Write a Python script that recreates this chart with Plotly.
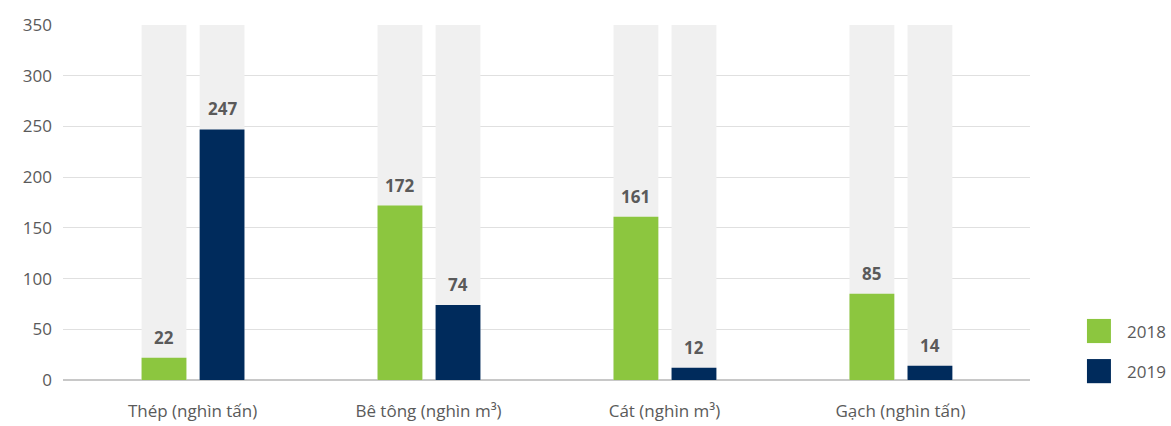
import plotly.graph_objects as go

categories = ["Thép (nghìn tấn)", "Bê tông (nghìn m³)", "Cát (nghìn m³)", "Gạch (nghìn tấn)"]
values_2018 = [22, 172, 161, 85]
values_2019 = [247, 74, 12, 14]
series_names = ["2018", "2019"]
y_max = 350
y_ticks = [0, 50, 100, 150, 200, 250, 300, 350]

green = "#8cc63f"
navy = "#002b5c"
track = "#f0f0f0"
text_grey = "#5a5a5a"
font_family = "'Open Sans', Lato, sans-serif"

x = list(range(len(categories)))
bar_w = 0.19
offsets = [-0.216, 0.030]

fig = go.Figure()
# light grey full-height tracks behind each bar
for off in offsets:
    fig.add_trace(go.Bar(
        x=x, y=[y_max] * len(x), width=bar_w, offset=off,
        marker=dict(color=track, line=dict(width=0)),
        showlegend=False, hoverinfo="skip",
    ))

for vals, off, color, name in zip([values_2018, values_2019], offsets, [green, navy], series_names):
    fig.add_trace(go.Bar(
        x=x, y=vals, width=bar_w, offset=off, name=name,
        marker=dict(color=color, line=dict(width=0)),
        showlegend=False,
    ))
    for xi, v in zip(x, vals):
        fig.add_annotation(
            x=xi + off + bar_w / 2, y=v, text=f"<b>{v}</b>",
            showarrow=False, yanchor="bottom", yshift=7,
            font=dict(size=17, color=text_grey, family=font_family),
        )

# legend as swatches with labels on the right
for i, (name, color) in enumerate(zip(series_names, [green, navy])):
    y0 = 0.138 - i * 0.113
    fig.add_shape(type="rect", xref="paper", yref="paper",
                  x0=1.0589, x1=1.0837, y0=y0 - 0.034, y1=y0 + 0.034,
                  fillcolor=color, line=dict(width=0))
    fig.add_annotation(xref="paper", yref="paper", x=1.098, y=y0,
                       text=name, showarrow=False, xanchor="left", yanchor="middle",
                       font=dict(size=17, color=text_grey, family=font_family))

fig.update_layout(
    width=1171, height=426,
    margin=dict(l=63, r=141, t=25, b=46),
    barmode="overlay",
    plot_bgcolor="white", paper_bgcolor="white",
    font=dict(family=font_family, size=17, color=text_grey),
    xaxis=dict(
        tickmode="array", tickvals=x, ticktext=categories,
        range=[-0.549, 3.549], showgrid=False, zeroline=False,
        showline=False, ticks="", ticklabelstandoff=19, automargin=False,
        tickfont=dict(size=17, color=text_grey),
    ),
    yaxis=dict(
        range=[0, y_max], tickvals=y_ticks, showgrid=True,
        gridcolor="#e0e0e0", gridwidth=1, zeroline=True,
        zerolinecolor="#c8c8c8", zerolinewidth=2, ticks="", automargin=False,
        ticklabelstandoff=10, tickfont=dict(size=17, color=text_grey),
    ),
)

fig.write_html("out.html")
